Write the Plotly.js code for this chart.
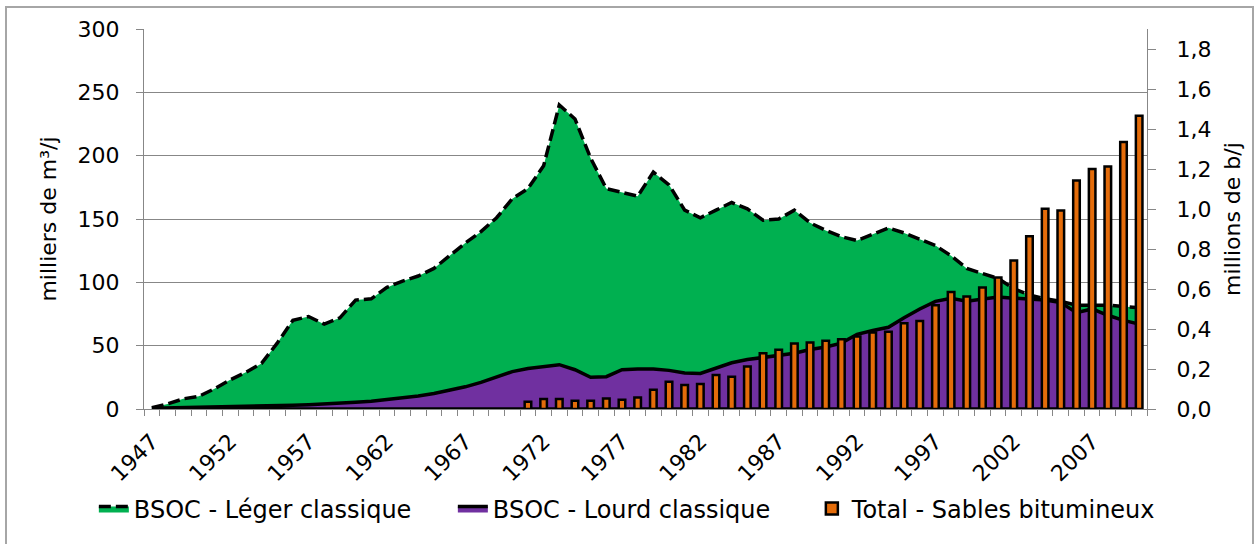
<!DOCTYPE html>
<html><head><meta charset="utf-8">
<script src="https://cdn.plot.ly/plotly-3.0.1.min.js"></script>
<style>
html,body{margin:0;padding:0;background:#fff;overflow:hidden;width:1255px;height:544px}
#chart{position:absolute;left:0;top:0;width:1255px;height:544px}
#frame{position:absolute;left:5px;top:6px;width:1245px;height:600px;border:2px solid #a6a6a6;pointer-events:none}
</style>
</head><body>
<div id="chart"></div><div id="frame"></div>
<script>
// Years (category axis)
const years = [1947,1948,1949,1950,1951,1952,1953,1954,1955,1956,1957,1958,1959,1960,1961,1962,1963,1964,1965,1966,1967,1968,1969,1970,1971,1972,1973,1974,1975,1976,1977,1978,1979,1980,1981,1982,1983,1984,1985,1986,1987,1988,1989,1990,1991,1992,1993,1994,1995,1996,1997,1998,1999,2000,2001,2002,2003,2004,2005,2006,2007,2008,2009,2010];
// BSOC - Léger classique (milliers de m3/j)
const leger = [1,4,8,10,16,23,29,36,52,70,73,67,72,86,87,96,101,105,111,121,131,140,151,166,174,192,240,229,198,174,171,168,187,177,157,151,157,163,158,149,150,157,147,141,136,133,138,143,139,134,129,121,111,107,103,95,90,87,85,82,82,82,81,80];
// BSOC - Lourd classique (milliers de m3/j)
const lourd = [0.5,0.7,0.9,1.1,1.3,1.6,1.9,2.2,2.6,3,3.4,3.9,4.5,5.3,6.2,7.3,8.6,10.2,12.2,14.6,17.5,21,25,29.5,32,33.5,35,31,25,25.5,31,31.5,31.5,30.5,28.5,28,32,36.5,39,40.5,42.5,44,47,49,52,59,62,64.5,72,79,85,87.5,85,87,88.5,87.5,87,86,84,76,79,74,70,67];
// Total - Sables bitumineux (millions de b/j)
const sablesYears = [1971,1972,1973,1974,1975,1976,1977,1978,1979,1980,1981,1982,1983,1984,1985,1986,1987,1988,1989,1990,1991,1992,1993,1994,1995,1996,1997,1998,1999,2000,2001,2002,2003,2004,2005,2006,2007,2008,2009,2010];
const sables = [0.036,0.050,0.050,0.041,0.041,0.053,0.046,0.058,0.096,0.136,0.120,0.125,0.170,0.161,0.213,0.279,0.296,0.327,0.332,0.341,0.349,0.362,0.383,0.386,0.429,0.440,0.519,0.585,0.562,0.607,0.657,0.743,0.864,1.001,0.992,1.142,1.200,1.213,1.335,1.466];
// Tick labels
const xTickVals = [1947,1952,1957,1962,1967,1972,1977,1982,1987,1992,1997,2002,2007];
const xTickText = ['1947','1952','1957','1962','1967','1972','1977','1982','1987','1992','1997','2002','2007'];
const leftTickVals = [0,50,100,150,200,250,300];
const rightTickVals = [0,0.2,0.4,0.6,0.8,1.0,1.2,1.4,1.6,1.8];
const rightTickText = ['0,0','0,2','0,4','0,6','0,8','1,0','1,2','1,4','1,6','1,8'];

const FONT = 'DejaVu Sans, Arial, sans-serif';
const GRAY = '#878787';

const traces = [
  {
    type:'scatter', x:years, y:leger, mode:'lines', fill:'tozeroy',
    fillcolor:'#00B050', line:{color:'#000', width:3.5, dash:'12px,5px'},
    name:'BSOC - Léger classique', hoverinfo:'skip'
  },
  {
    type:'scatter',
    x:years.concat(years.slice().reverse()),
    y:lourd.concat(years.map(function(){return 0;})),
    mode:'lines', fill:'toself',
    fillcolor:'#7030A0', line:{color:'#000', width:3.5},
    name:'BSOC - Lourd classique', hoverinfo:'skip'
  },
  {
    type:'bar', x:sablesYears, y:sables, yaxis:'y2', width:0.42,
    marker:{color:'#E46C0A', line:{color:'#000', width:2.5}},
    name:'Total - Sables bitumineux', hoverinfo:'skip'
  }
];

const layout = {
  width:1255, height:544,
  margin:{l:144, r:108, t:29, b:133, pad:0},
  paper_bgcolor:'#fff', plot_bgcolor:'#fff',
  separators:', ',
  font:{family:FONT, size:22, color:'#000'},
  showlegend:true,
  legend:{orientation:'h', x:-0.050, y:-0.263, xanchor:'left', yanchor:'middle',
          font:{size:24, family:FONT}, entrywidth:314, traceorder:'normal', bgcolor:'rgba(0,0,0,0)'},
  xaxis:{
    range:[1946.5,2010.5], tickmode:'array', tickvals:xTickVals, ticktext:xTickText,
    tickangle:-45, ticks:'', showline:true, linecolor:GRAY, linewidth:1,
    showgrid:false, zeroline:false, ticklabelstandoff:10,
    minor:{tickmode:'linear', tick0:1946.5, dtick:1, ticks:'outside', ticklen:6, tickcolor:GRAY, tickwidth:1, showgrid:false}
  },
  yaxis:{
    range:[0,300], tickmode:'array', tickvals:leftTickVals, showline:true, linecolor:GRAY,
    ticks:'outside', ticklen:7, tickcolor:GRAY, showgrid:true, gridcolor:GRAY, gridwidth:1,
    zeroline:false, ticklabelstandoff:12,
    title:{text:'milliers de m³/j', font:{size:22, family:FONT}, standoff:14}
  },
  yaxis2:{
    overlaying:'y', side:'right', range:[0,1.9], tickmode:'array',
    tickvals:rightTickVals, ticktext:rightTickText, ticks:'outside', ticklen:8, tickcolor:GRAY,
    showline:true, linecolor:GRAY, showgrid:false, zeroline:false, ticklabelstandoff:16,
    title:{text:'millions de b/j', font:{size:22, family:FONT}, standoff:14}
  }
};

Plotly.newPlot('chart', traces, layout, {displayModeBar:false, staticPlot:true});
</script>
</body></html>
